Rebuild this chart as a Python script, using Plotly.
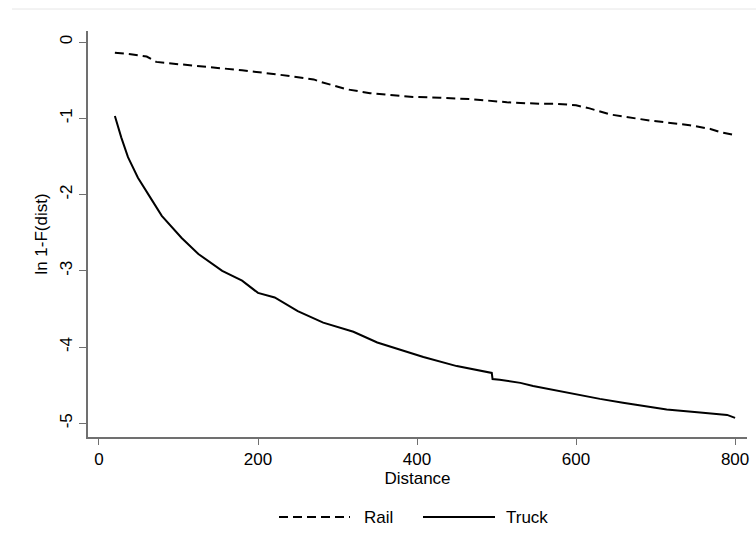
import plotly.graph_objects as go

# Rail: distance vs ln(1-F(dist))
rail_dist = [20, 40, 60, 72, 100, 143, 180, 228, 255, 270, 278, 312, 341, 395, 429,
             470, 513, 554, 576, 600, 617, 643, 693, 743, 769, 781, 800]
rail_val = [-0.14, -0.16, -0.19, -0.26, -0.29, -0.33, -0.37, -0.43, -0.47, -0.49, -0.52,
            -0.62, -0.67, -0.72, -0.73, -0.75, -0.79, -0.81, -0.81, -0.83, -0.87, -0.95,
            -1.03, -1.09, -1.14, -1.18, -1.22]

# Truck
truck_dist = [20, 28, 36.5, 49, 67, 79, 104, 125, 155, 180, 200, 221, 250, 282, 320,
              350, 408, 450, 494, 495, 504, 530, 546, 588, 630, 659, 714, 756, 790, 800]
truck_val = [-0.97, -1.25, -1.51, -1.78, -2.08, -2.28, -2.57, -2.78, -3.00, -3.13, -3.29,
             -3.35, -3.53, -3.68, -3.80, -3.94, -4.13, -4.25, -4.34, -4.42, -4.43, -4.47,
             -4.51, -4.60, -4.68, -4.73, -4.82, -4.86, -4.89, -4.93]

x_ticks = [0, 200, 400, 600, 800]
y_ticks = [0, -1, -2, -3, -4, -5]
series_names = ["Rail", "Truck"]

FONT = "Liberation Sans, Arial, sans-serif"
AXIS_COLOR = "#707070"

fig = go.Figure()
fig.add_trace(go.Scatter(x=rail_dist, y=rail_val, mode="lines", name=series_names[0],
                         line=dict(color="black", width=2, dash="9px,5px"),
                         showlegend=False))
fig.add_trace(go.Scatter(x=truck_dist, y=truck_val, mode="lines", name=series_names[1],
                         line=dict(color="black", width=2),
                         showlegend=False))

W, H = 756, 556
ml, mr, mt, mb = 88, 9, 31, 119
pw, ph = W - ml - mr, H - mt - mb

def px(x):
    return (x - ml) / pw

def py(y):
    return (H - mb - y) / ph

shapes = [
    # faint outer border line at top
    dict(type="line", xref="paper", yref="paper", x0=px(12), x1=px(756), y0=py(9), y1=py(9),
         line=dict(color="#e6e6e6", width=1)),
    # legend samples
    dict(type="line", xref="paper", yref="paper", x0=px(279), x1=px(350), y0=py(517), y1=py(517),
         line=dict(color="black", width=2, dash="9px,5px")),
    dict(type="line", xref="paper", yref="paper", x0=px(423), x1=px(495), y0=py(517), y1=py(517),
         line=dict(color="black", width=2)),
]
annotations = [
    dict(xref="paper", yref="paper", x=px(362), y=py(517), text=series_names[0], showarrow=False,
         xanchor="left", yanchor="middle", font=dict(family=FONT, size=17, color="black")),
    dict(xref="paper", yref="paper", x=px(504), y=py(517), text=series_names[1], showarrow=False,
         xanchor="left", yanchor="middle", font=dict(family=FONT, size=17, color="black")),
]

fig.update_layout(
    width=W, height=H,
    margin=dict(l=ml, r=mr, t=mt, b=mb, autoexpand=False),
    paper_bgcolor="white", plot_bgcolor="white",
    font=dict(family=FONT, size=17, color="black"),
    shapes=shapes, annotations=annotations,
    xaxis=dict(range=[-13.8, 815], tickvals=x_ticks, ticktext=[str(v) for v in x_ticks],
               showgrid=False, zeroline=False, showline=True, linecolor=AXIS_COLOR, linewidth=1.5,
               ticks="outside", ticklen=6, tickcolor=AXIS_COLOR, tickwidth=1.2,
               tickfont=dict(family=FONT, size=17, color="black"),
               title=dict(text="Distance", standoff=2, font=dict(family=FONT, size=17))),
    yaxis=dict(range=[-5.18, 0.145], tickvals=y_ticks, ticktext=[str(v) for v in y_ticks],
               tickangle=-90,
               showgrid=False, zeroline=False, showline=True, linecolor=AXIS_COLOR, linewidth=1.5,
               ticks="outside", ticklen=7, tickcolor=AXIS_COLOR, tickwidth=1.2,
               tickfont=dict(family=FONT, size=17, color="black"),
               title=dict(text="ln 1-F(dist)", standoff=6, font=dict(family=FONT, size=17))),
)

fig.write_html("out.html")
